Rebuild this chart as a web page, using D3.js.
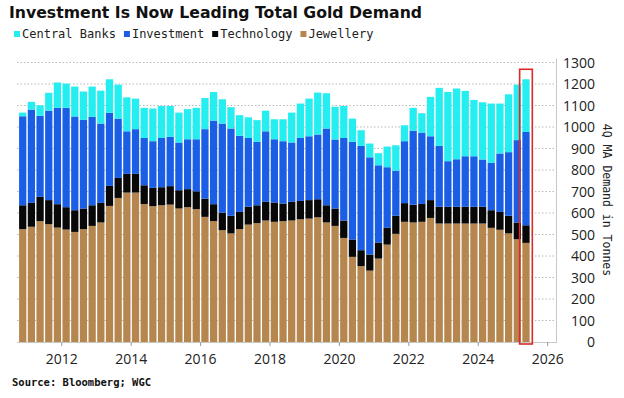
<!DOCTYPE html>
<html>
<head>
<meta charset="utf-8">
<script src="https://cdn.jsdelivr.net/npm/d3@7"></script>
<style>
  body { margin: 0; background: #fff; }
  svg { display: block; }
</style>
</head>
<body>
<div id="chart"></div>
<script>
// quarterly 4Q moving average, tonnes
const quarters = [
  "2010Q4",
  "2011Q1","2011Q2","2011Q3","2011Q4",
  "2012Q1","2012Q2","2012Q3","2012Q4",
  "2013Q1","2013Q2","2013Q3","2013Q4",
  "2014Q1","2014Q2","2014Q3","2014Q4",
  "2015Q1","2015Q2","2015Q3","2015Q4",
  "2016Q1","2016Q2","2016Q3","2016Q4",
  "2017Q1","2017Q2","2017Q3","2017Q4",
  "2018Q1","2018Q2","2018Q3","2018Q4",
  "2019Q1","2019Q2","2019Q3","2019Q4",
  "2020Q1","2020Q2","2020Q3","2020Q4",
  "2021Q1","2021Q2","2021Q3","2021Q4",
  "2022Q1","2022Q2","2022Q3","2022Q4",
  "2023Q1","2023Q2","2023Q3","2023Q4",
  "2024Q1","2024Q2","2024Q3","2024Q4",
  "2025Q1","2025Q2"
];
const jewellery = [
  525,
  536,562,548,532, 523,512,525,540, 556,633,670,695, 695,642,632,636,
  639,621,627,618, 582,562,520,505, 525,546,553,565, 559,562,565,571,
  574,580,556,540, 484,396,353,332, 388,453,503,559, 556,559,577,551,
  551,551,551,551, 551,531,522,505, 478,461
];
const technology = [
  111,
  111,113,112,109, 104,101,96,96, 91,93,93,87, 87,87,85,84,
  86,85,84,83, 85,79,82,82, 80,83,83,87, 90,82,87,85,
  86,84,80,81, 81,81,74,75, 75,78,84,87, 83,83,83,78,
  78,78,78,78, 78,82,83,82, 78,82
];
const investment = [
  414,
  434,377,416,448, 462,436,412,411, 369,340,276,198, 208,220,217,229,
  229,222,232,242, 323,389,414,406, 354,320,295,328, 294,290,276,293,
  297,301,357,321, 384,454,485,452, 359,282,210,288, 344,332,297,283,
  212,221,235,235, 220,220,272,296, 383,434
];
const centralBanks = [
  17,
  36,49,83,118, 113,139,132,141, 153,156,158,158, 142,140,152,149,
  144,139,140,146, 145,133,113,99, 96,96,101,96, 93,102,139,160,
  175,195,164,152, 149,108,73,64, 56,96,118,74, 106,90,183,270,
  322,329,304,262, 266,276,232,269, 258,245
];
const seriesNames = ["Central Banks", "Investment", "Technology", "Jewellery"];
const yTicks = [0,100,200,300,400,500,600,700,800,900,1000,1100,1200,1300];
const xTickYears = [2012,2014,2016,2018,2020,2022,2024,2026];

const colors = {
  "Central Banks": "#25eef0",
  "Investment": "#1b5ee6",
  "Technology": "#080808",
  "Jewellery": "#b5874f"
};

const width = 624, height = 398;
const plotLeft = 17, plotRight = 556, plotBottom = 342, plotTop = 62.5;

const svg = d3.select("#chart").append("svg")
  .attr("width", width)
  .attr("height", height);

// scales
const x = d3.scaleLinear().domain([2010.71, 2026.24]).range([plotLeft, plotRight]);
const y = d3.scaleLinear().domain([0, 1300]).range([plotBottom, plotTop]);

const rows = quarters.map((q, i) => ({
  start: +q.slice(0, 4) + (+q.slice(5) - 1) / 4,
  "Jewellery": jewellery[i],
  "Technology": technology[i],
  "Investment": investment[i],
  "Central Banks": centralBanks[i]
}));

const stack = d3.stack().keys(["Jewellery", "Technology", "Investment", "Central Banks"]);
const layers = stack(rows);

// gridlines
svg.append("g")
  .selectAll("line")
  .data(yTicks.filter(d => d > 0))
  .join("line")
  .attr("x1", plotLeft).attr("x2", plotRight)
  .attr("y1", d => y(d)).attr("y2", d => y(d))
  .attr("stroke", "#b8b8b8")
  .attr("stroke-width", 1)
  .attr("stroke-dasharray", "1.5,2");

// bars
const gap = 1.4;
svg.append("g")
  .selectAll("g")
  .data(layers)
  .join("g")
  .attr("fill", d => colors[d.key])
  .selectAll("rect")
  .data(d => d)
  .join("rect")
  .attr("x", d => x(d.data.start) + gap / 2)
  .attr("width", d => x(d.data.start + 0.25) - x(d.data.start) - gap)
  .attr("y", d => y(d[1]))
  .attr("height", d => y(d[0]) - y(d[1]));

// axes lines
svg.append("line")
  .attr("x1", plotLeft).attr("x2", plotRight)
  .attr("y1", plotBottom + 0.5).attr("y2", plotBottom + 0.5)
  .attr("stroke", "#c8c8c8");
svg.append("line")
  .attr("x1", plotRight + 0.5).attr("x2", plotRight + 0.5)
  .attr("y1", plotTop - 4).attr("y2", plotBottom + 1)
  .attr("stroke", "#c8c8c8");

// x ticks + labels
const xg = svg.append("g");
xg.selectAll("line")
  .data(xTickYears)
  .join("line")
  .attr("x1", d => x(d)).attr("x2", d => x(d))
  .attr("y1", plotBottom).attr("y2", plotBottom + 4)
  .attr("stroke", "#999");
xg.selectAll("text")
  .data(xTickYears)
  .join("text")
  .attr("x", d => x(d))
  .attr("y", 364)
  .attr("text-anchor", "middle")
  .attr("font-family", "'Open Sans', sans-serif")
  .attr("font-size", 14)
  .attr("fill", "#222")
  .text(d => d);

// y labels on the right
svg.append("g")
  .selectAll("text")
  .data(yTicks)
  .join("text")
  .attr("x", 595)
  .attr("y", d => y(d) + 5)
  .attr("text-anchor", "end")
  .attr("font-family", "'Open Sans', sans-serif")
  .attr("font-size", 14)
  .attr("fill", "#222")
  .text(d => d);

// axis title
svg.append("text")
  .attr("transform", "translate(603,200) rotate(90)")
  .attr("text-anchor", "middle")
  .attr("font-family", "'DejaVu Sans Mono', monospace")
  .attr("font-size", 11.5)
  .attr("fill", "#222")
  .text("4Q MA Demand in Tonnes");

// red highlight box around the latest quarter
const last = rows[rows.length - 1];
const lastTotal = last["Jewellery"] + last["Technology"] + last["Investment"] + last["Central Banks"];
svg.append("rect")
  .attr("x", x(last.start) - 2)
  .attr("y", y(lastTotal) - 10)
  .attr("width", x(last.start + 0.25) - x(last.start) + 4)
  .attr("height", y(0) - y(lastTotal) + 12)
  .attr("fill", "none")
  .attr("stroke", "#dc2a2a")
  .attr("stroke-width", 1.6);

// title
svg.append("text")
  .attr("x", 9)
  .attr("y", 18)
  .attr("font-family", "'DejaVu Sans', sans-serif")
  .attr("font-weight", "bold")
  .attr("font-size", 15.7)
  .attr("fill", "#111")
  .text("Investment Is Now Leading Total Gold Demand");

// legend
const legend = svg.append("g");
let lx = 14;
seriesNames.forEach(name => {
  legend.append("rect")
    .attr("x", lx).attr("y", 31)
    .attr("width", 6).attr("height", 6)
    .attr("fill", colors[name]);
  const t = legend.append("text")
    .attr("x", lx + 8)
    .attr("y", 37.5)
    .attr("font-family", "'DejaVu Sans Mono', monospace")
    .attr("font-size", 12)
    .attr("fill", "#222")
    .text(name);
  lx += 8 + t.node().getComputedTextLength() + 8;
});

// source
svg.append("text")
  .attr("x", 12)
  .attr("y", 386)
  .attr("font-family", "'DejaVu Sans Mono', monospace")
  .attr("font-weight", "bold")
  .attr("font-size", 10.5)
  .attr("fill", "#111")
  .text("Source: Bloomberg; WGC");
</script>
</body>
</html>
